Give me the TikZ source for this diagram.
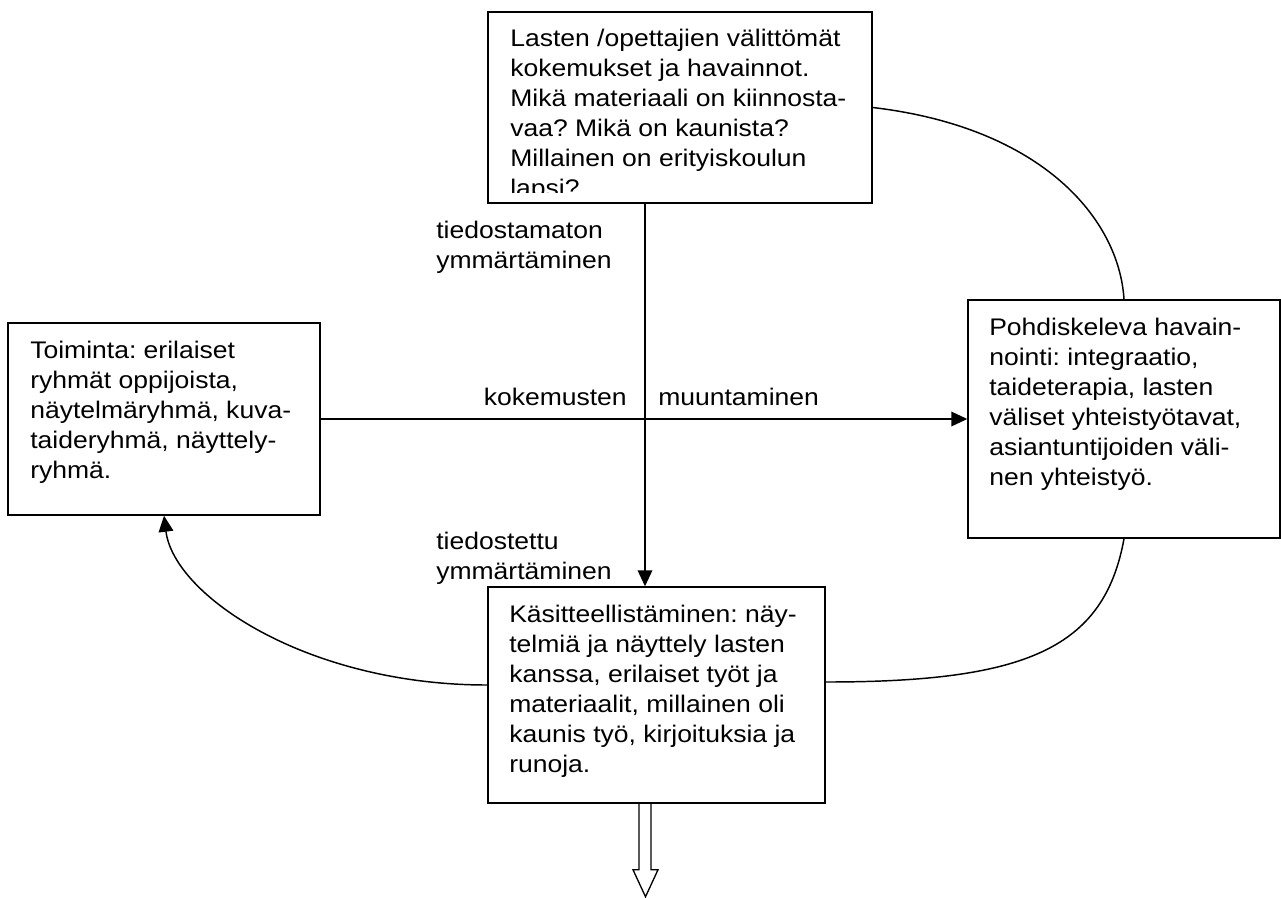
\documentclass[tikz,border=0pt]{standalone}
\usepackage{fontspec}
\setmainfont{Liberation Sans}[FakeStretch=1.105]
\usetikzlibrary{arrows.meta,calc}
\begin{document}
\frenchspacing
\begin{tikzpicture}[x=0.75pt,y=-0.75pt,
  box/.style={draw, line width=1.1pt, inner sep=0pt},
  txt/.style={anchor=north west, inner sep=0pt, align=left, font=\fontsize{18pt}{22.5pt}\selectfont},
  lbl/.style={inner sep=0pt, font=\fontsize{18pt}{22.5pt}\selectfont},
  conn/.style={line width=1.1pt},
  arr/.style={conn, -{Triangle[length=12pt,width=11pt]}}]
\useasboundingbox (0,0) rectangle (1281,897);
% boxes
\node[box, minimum width=288pt, minimum height=143.25pt] (top) at (680,107.5) {};
\node[box, minimum width=234pt, minimum height=144pt] (left) at (164,419) {};
\node[box, minimum width=234pt, minimum height=178.5pt] (right) at (1124,419) {};
\node[box, minimum width=252.75pt, minimum height=162pt] (bot) at (656.5,695) {};
% box texts
\begin{scope}
\clip (488,12) rectangle (872,192);
\node[txt] (toptxt) at (510,28.5) {\rule{0pt}{13.5pt}Lasten /opettajien välittömät\\kokemukset ja havainnot.\\Mikä materiaali on kiinnosta-\\vaa? Mikä on kaunista?\\Millainen on erityiskoulun\\lapsi?};
\end{scope}
\node[txt] (lefttxt) at (30,340.7) {\rule{0pt}{13.5pt}Toiminta: erilaiset\\ryhmät oppijoista,\\näytelmäryhmä, kuva-\\taideryhmä, näyttely-\\ryhmä.};
\node[txt] (righttxt) at (989,317) {\rule{0pt}{13.5pt}Pohdiskeleva havain-\\nointi: integraatio,\\taideterapia, lasten\\väliset yhteistyötavat,\\asiantuntijoiden väli-\\nen yhteistyö.};
\node[txt] (bottxt) at (509,604) {\rule{0pt}{13.5pt}Käsitteellistäminen: näy-\\telmiä ja näyttely lasten\\kanssa, erilaiset työt ja\\materiaalit, millainen oli\\kaunis työ, kirjoituksia ja\\runoja.};
% labels
\node[txt] (l1) at (436,220) {\rule{0pt}{13.5pt}tiedostamaton\\ymmärtäminen};
\node[txt] (l2) at (436,531) {\rule{0pt}{13.5pt}tiedostettu\\ymmärtäminen};
\node[lbl, anchor=base east] (l3) at (627,405) {kokemusten};
\node[lbl, anchor=base west] (l4) at (658,405) {muuntaminen};
% connectors
\coordinate (vx) at (645,420);
\draw[arr] (vx |- top.south) -- (vx |- bot.north);
\draw[arr] (left.east) -- (right.west);
\draw[conn] (top.east) .. controls +(170,20) and +(-5,-80) .. (right.north);
\draw[conn] (right.south) .. controls +(-20,110) and +(200,0) .. ([yshift=9.75pt]bot.east);
\draw[arr] ([yshift=7.5pt]bot.west) .. controls +(-180,0) and +(10,80) .. (left.south);
% hollow arrow
\coordinate (ha) at (vx |- bot.south);
\draw[line width=1pt] ([xshift=-4.5pt]ha) -- ++(0,66) -- ++(-6,0) -- ++(12.5,27) -- ++(12.5,-27) -- ++(-7,0) -- ++(0,-66);
\end{tikzpicture}
\end{document}
